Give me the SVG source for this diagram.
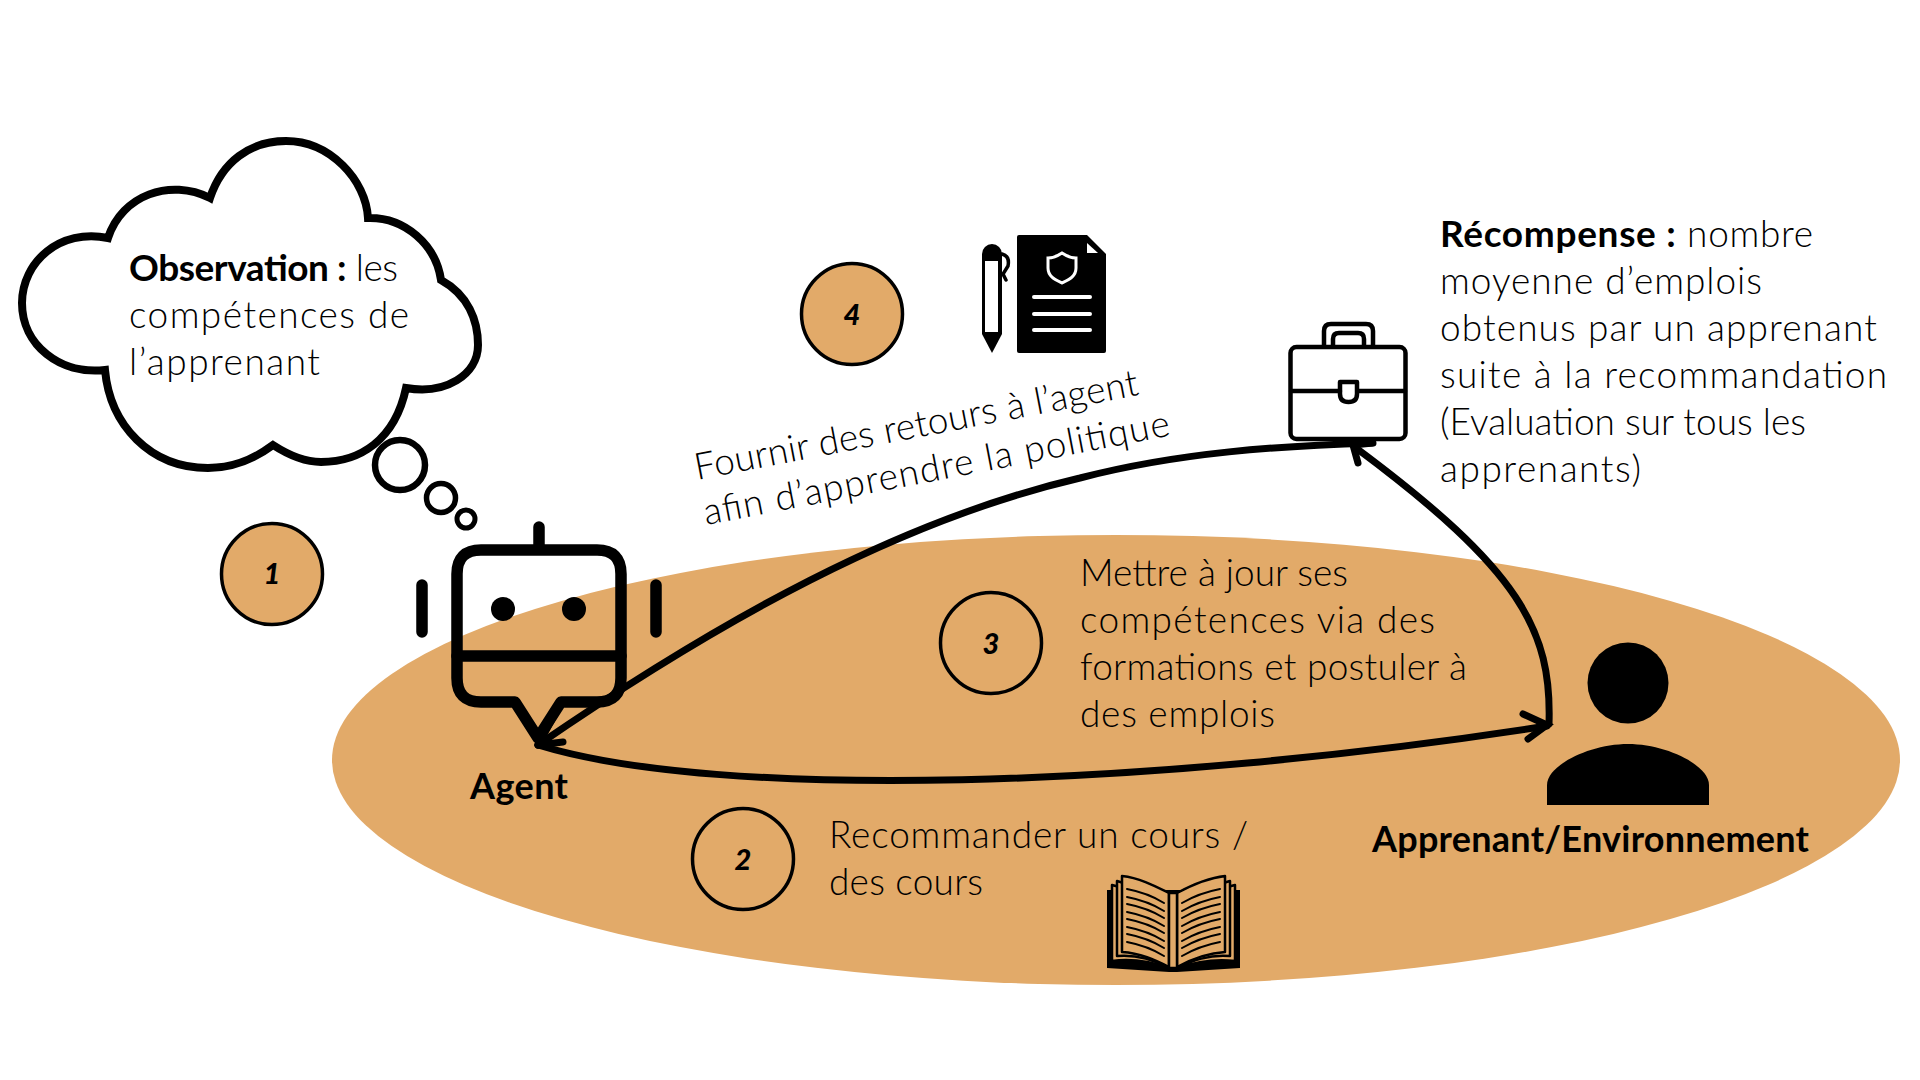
<svg xmlns="http://www.w3.org/2000/svg" width="1920" height="1080" viewBox="0 0 1920 1080">
<style>
text{font-family:"Lato","Open Sans",sans-serif;fill:#000}
.t{font-size:37px;font-weight:300}
.b{font-weight:700}
.lb{font-size:36px;font-weight:700}
.n{font-size:29px;font-weight:900;font-style:italic;text-anchor:middle}
.num{stroke:#000;stroke-width:3.5}
.ln{fill:none;stroke:#000;stroke-linecap:round;stroke-linejoin:round}
.conn{fill:none;stroke:#000;stroke-width:7;stroke-linecap:round}
.pg{fill:#E2AA69;stroke:#000;stroke-width:2.5;stroke-linejoin:round}
</style>
<rect width="1920" height="1080" fill="#fff"/>
<ellipse id="environment-zone" cx="1116" cy="760" rx="784" ry="225" fill="#E2AA69"/>

<g id="observation-cloud">
<path d="M108,238 C122,195 170,178 210,198 C222,162 250,141 286,141 C330,141 366,180 368,218 C405,217 436,245 441,280 C468,295 478,320 478,345 C478,375 445,395 406,388 C395,440 360,462 321,462 C305,462 290,456 273,445 C250,462 230,468 208,468 C150,468 110,425 105,370 C60,375 22,345 22,303 C22,262 60,228 108,238 Z" fill="#fff" stroke="#000" stroke-width="8" stroke-linejoin="miter"/>
<circle cx="400" cy="465" r="25" fill="#fff" stroke="#000" stroke-width="6.5"/>
<circle cx="441" cy="498" r="14.5" fill="#fff" stroke="#000" stroke-width="5.5"/>
<circle cx="466" cy="519" r="9" fill="#fff" stroke="#000" stroke-width="5"/>
<text class="t" x="129" y="281" textLength="269"><tspan class="b">Observation :</tspan> les</text>
<text class="t" x="129" y="328" textLength="280">compétences de</text>
<text class="t" x="129" y="375" textLength="191">l’apprenant</text>
</g>

<g id="step-1"><circle class="num" cx="272" cy="574" r="50.5" fill="#E2AA69"/><text class="n" x="272" y="584">1</text></g>
<g id="step-2"><circle class="num" cx="743" cy="859" r="50.5" fill="none"/><text class="n" x="743" y="870">2</text></g>
<g id="step-3"><circle class="num" cx="991" cy="643" r="50.5" fill="none"/><text class="n" x="991" y="654">3</text></g>
<g id="step-4"><circle class="num" cx="852" cy="314" r="50.5" fill="#E2AA69"/><text class="n" x="852" y="325">4</text></g>

<g id="agent">
<path class="ln" stroke-width="11.5" d="M539,527 V548 M422,585 V632 M656,585 V632 M457,656 H621"/>
<path class="ln" stroke-width="11.5" d="M481,550 H597 Q621,550 621,574 V678 Q621,702 597,702 H561 L538,738 L515,702 H481 Q457,702 457,678 V574 Q457,550 481,550 Z"/>
<circle cx="503" cy="609" r="12"/><circle cx="574" cy="609" r="12"/>
<text class="lb" x="470" y="799" textLength="98">Agent</text>
</g>

<g id="connectors">
<path class="conn" d="M538,745 C720,801 1150,788 1547,726"/>
<path class="conn" d="M1523,714 L1547,725 L1528,739"/>
<path class="conn" d="M538,745 C720,620 900,520 1080,478 C1180,452 1280,446 1372,443"/>
<path class="conn" d="M538,745 L563,742 M538,745 L556,712"/>
<path class="conn" d="M1549,724 C1552,630 1520,570 1356,448"/>
<path class="conn" d="M1358,463 L1353,445 L1373,443"/>
</g>

<g id="document">
<path d="M1017,237 Q1017,235 1019,235 H1087 L1106,254 V351 Q1106,353 1104,353 H1019 Q1017,353 1017,351 Z"/>
<path d="M1087,243 V253 H1098 Z" fill="#fff"/>
<path d="M1062,253 C1068,257 1072,258 1076,258 V268 C1076,277 1068,280 1062,283 C1056,280 1048,277 1048,268 V258 C1052,258 1056,257 1062,253 Z" fill="none" stroke="#fff" stroke-width="3"/>
<path d="M1034,297 H1090 M1034,314 H1090 M1034,330 H1090" fill="none" stroke="#fff" stroke-width="4" stroke-linecap="round"/>
<path d="M982,254 A10,10 0 0 1 1002,254 V334 L992,353 L982,334 Z"/>
<rect x="985" y="261" width="13" height="71" fill="#fff"/>
<path d="M1002,254 Q1010,256 1008,266 L1003,274 L1006,280" fill="none" stroke="#000" stroke-width="3.5" stroke-linecap="round"/>
</g>

<g id="briefcase">
<rect class="ln" x="1290.5" y="347" width="115" height="92" rx="6" fill="#fff" stroke-width="4.5"/>
<path class="ln" stroke-width="4.5" d="M1324,345 V331 Q1324,324 1331,324 H1366 Q1373,324 1373,331 V345 M1333,345 V339 Q1333,333 1339,333 H1358 Q1364,333 1364,339 V345 M1291,391 H1340 M1358,391 H1405"/>
<path class="ln" stroke-width="4.5" d="M1340,382 H1357 V394 Q1357,402 1348.5,402 Q1340,402 1340,394 Z"/>
</g>

<g id="learner">
<circle cx="1628" cy="683" r="40.5"/>
<path d="M1547,805 V785 C1547,765 1590,744 1628,744 C1666,744 1709,765 1709,785 V805 Z"/>
<text class="lb" x="1372" y="852" textLength="437">Apprenant/Environnement</text>
</g>

<g id="book">
<path d="M1107,890 H1240 V968 L1177,972 H1169 L1107,968 Z"/>
<path class="pg" d="M1112,885 V961 C1135,958 1155,963 1169,968 V900 Z M1235,885 V961 C1212,958 1192,963 1177,968 V900 Z"/>
<path class="pg" d="M1117,881 V956 C1138,954 1155,961 1169,968 V897 Z M1230,881 V956 C1209,954 1192,961 1177,968 V897 Z"/>
<path class="pg" d="M1122,876 C1140,878 1155,886 1169,893 V967 C1155,960 1140,953 1122,952 Z M1225,876 C1207,878 1190,886 1177,893 V967 C1190,960 1207,953 1225,952 Z"/>
<rect class="pg" x="1169" y="893" width="8" height="75"/>
<path class="ln" stroke-width="2" d="M1127,889 Q1148,893 1164,903 M1127,897 Q1148,901 1164,911 M1127,904 Q1148,908 1164,918 M1127,912 Q1148,916 1164,926 M1127,919 Q1148,923 1164,933 M1127,927 Q1148,931 1164,941 M1127,934 Q1148,938 1164,948 M1127,942 Q1148,946 1164,956 M1220,889 Q1199,893 1182,903 M1220,897 Q1199,901 1182,911 M1220,904 Q1199,908 1182,918 M1220,912 Q1199,916 1182,926 M1220,919 Q1199,923 1182,933 M1220,927 Q1199,931 1182,941 M1220,934 Q1199,938 1182,948 M1220,942 Q1199,946 1182,956"/>
</g>

<g id="labels">
<text class="t" transform="translate(697,480) rotate(-10.9)" textLength="451">Fournir des retours à l’agent</text>
<text class="t" transform="translate(706,525) rotate(-10.9)" textLength="474">afin d’apprendre la politique</text>
<text class="t" x="1080" y="586" textLength="268">Mettre à jour ses</text>
<text class="t" x="1080" y="633" textLength="355">compétences via des</text>
<text class="t" x="1080" y="680" textLength="387">formations et postuler à</text>
<text class="t" x="1080" y="727" textLength="195">des emplois</text>
<text class="t" x="829" y="848" textLength="419">Recommander un cours /</text>
<text class="t" x="829" y="895" textLength="154">des cours</text>
<text class="t" x="1440" y="247" textLength="373"><tspan class="b">Récompense :</tspan> nombre</text>
<text class="t" x="1440" y="294" textLength="322">moyenne d’emplois</text>
<text class="t" x="1440" y="341" textLength="437">obtenus par un apprenant</text>
<text class="t" x="1440" y="388" textLength="447">suite à la recommandation</text>
<text class="t" x="1440" y="435" textLength="366">(Evaluation sur tous les</text>
<text class="t" x="1440" y="482" textLength="201">apprenants)</text>
</g>
</svg>
